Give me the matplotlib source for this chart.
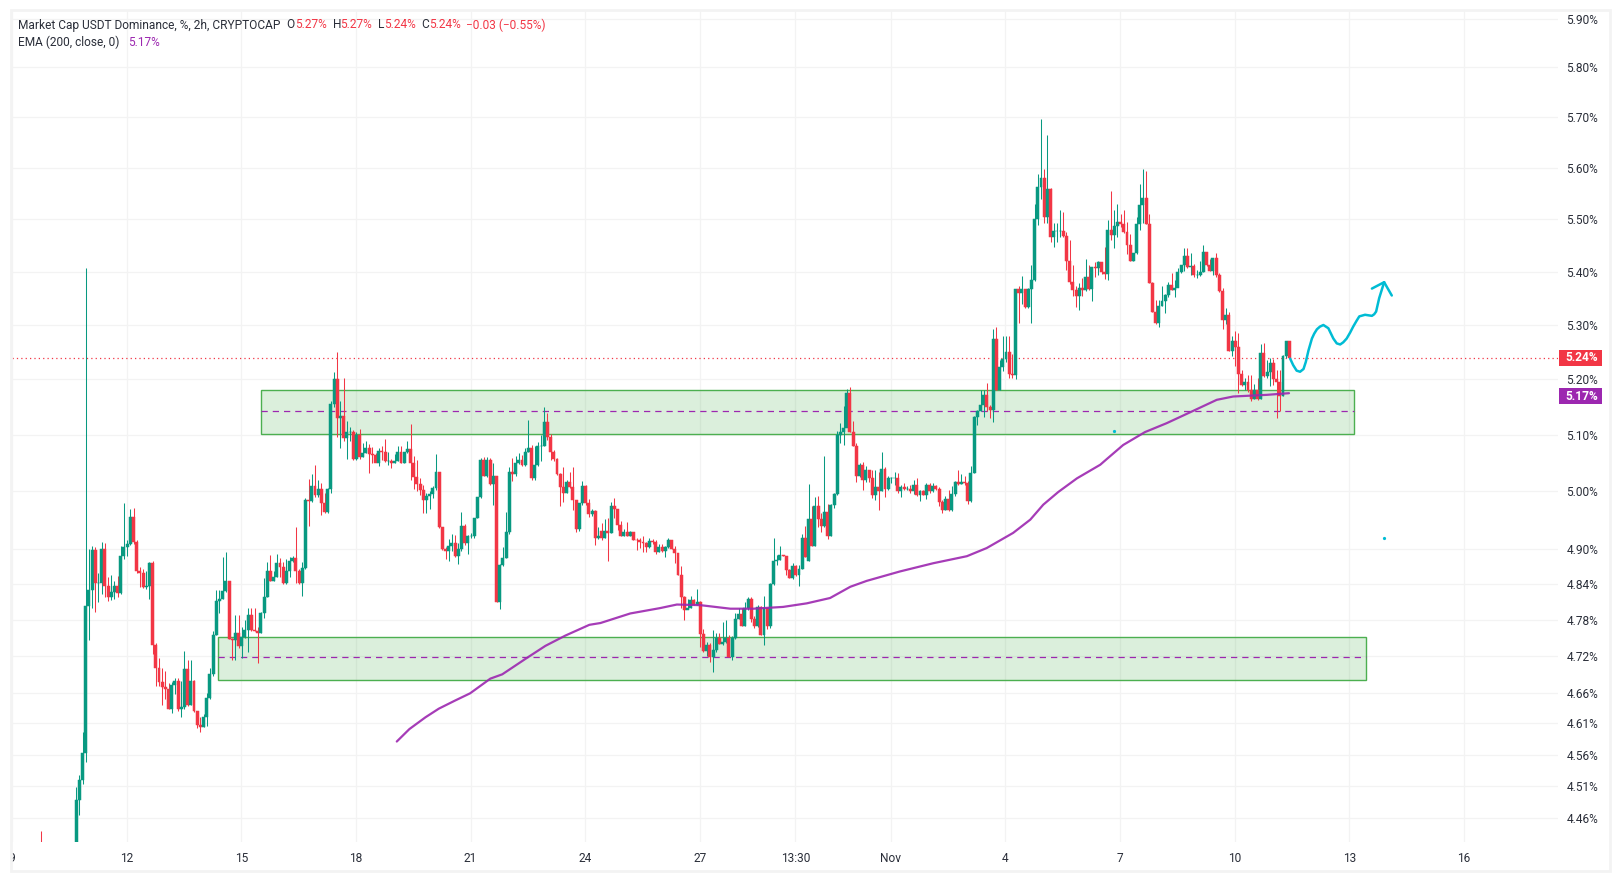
import numpy as np
import matplotlib
matplotlib.use('Agg')
import matplotlib.pyplot as plt
from matplotlib.patches import Rectangle
from matplotlib.ticker import NullLocator

plt.rcParams['font.family'] = ['Roboto', 'DejaVu Sans']

UP = '#089981'
DOWN = '#f23645'
PURPLE = '#9c27b0'
BOX_GREEN = '#4caf50'
CYAN = '#00bcd4'
GRID = '#f3f3f3'
TEXT = '#2a2e39'

# x axis is days since 9 Oct, one candle every 2h, last candle sits at last_day
last_day = 33.43

opens = [
    4.400, 4.488, 4.520, 4.563, 4.803, 4.831, 4.899, 4.842, 4.843, 4.900,
    4.837, 4.818, 4.827, 4.838, 4.825, 4.889, 4.903, 4.909, 4.955, 4.913,
    4.863, 4.859, 4.835, 4.838, 4.877, 4.739, 4.700, 4.678, 4.670, 4.666,
    4.634, 4.672, 4.679, 4.633, 4.637, 4.698, 4.640, 4.679, 4.630, 4.607,
    4.605, 4.621, 4.651, 4.691, 4.755, 4.812, 4.816, 4.828, 4.845, 4.748,
    4.746, 4.758, 4.736, 4.751, 4.764, 4.789, 4.764, 4.762, 4.759, 4.791,
    4.818, 4.862, 4.845, 4.853, 4.877, 4.869, 4.842, 4.863, 4.879, 4.885,
    4.863, 4.842, 4.868, 4.985, 4.984, 5.010, 4.993, 5.004, 4.980, 4.965,
    5.004, 5.155, 5.200, 5.130, 5.133, 5.095, 5.105, 5.106, 5.057, 5.100,
    5.060, 5.067, 5.076, 5.066, 5.065, 5.050, 5.072, 5.070, 5.053, 5.053,
    5.050, 5.054, 5.070, 5.050, 5.070, 5.075, 5.050, 5.025, 5.013, 5.003,
    4.985, 4.992, 4.996, 5.006, 5.035, 4.938, 4.900, 4.897, 4.905, 4.911,
    4.889, 4.900, 4.940, 4.910, 4.922, 4.922, 4.953, 4.990, 5.055, 5.028,
    5.055, 5.013, 5.027, 4.810, 4.873, 4.885, 4.930, 5.035, 5.030, 5.050,
    5.055, 5.047, 5.070, 5.077, 5.023, 5.047, 5.080, 5.080, 5.123, 5.097,
    5.070, 5.058, 5.030, 5.008, 4.998, 5.017, 5.008, 4.985, 4.935, 4.980,
    5.010, 4.980, 4.960, 4.966, 4.920, 4.932, 4.920, 4.932, 4.928, 4.975,
    4.970, 4.942, 4.923, 4.929, 4.923, 4.929, 4.916, 4.915, 4.913, 4.910,
    4.903, 4.914, 4.912, 4.896, 4.903, 4.897, 4.903, 4.916, 4.900, 4.894,
    4.856, 4.818, 4.797, 4.800, 4.813, 4.806, 4.810, 4.757, 4.728, 4.738,
    4.718, 4.730, 4.750, 4.740, 4.743, 4.750, 4.718, 4.750, 4.782, 4.790,
    4.770, 4.800, 4.815, 4.782, 4.770, 4.802, 4.755, 4.800, 4.770, 4.840,
    4.880, 4.882, 4.890, 4.889, 4.865, 4.850, 4.871, 4.856, 4.867, 4.920,
    4.880, 4.952, 4.906, 4.975, 4.952, 4.940, 4.965, 4.923, 4.977, 4.995,
    5.100, 5.105, 5.113, 5.175, 5.105, 5.080, 5.027, 5.047, 5.020, 5.037,
    5.024, 4.994, 5.008, 5.001, 5.040, 5.005, 5.023, 5.024, 5.024, 5.000,
    5.008, 5.005, 5.005, 5.000, 5.012, 4.993, 5.000, 4.993, 5.012, 5.000,
    5.010, 5.005, 4.982, 4.968, 4.987, 4.967, 4.995, 5.017, 5.013, 5.017,
    5.014, 4.983, 5.033, 5.132, 5.143, 5.153, 5.171, 5.150, 5.144, 5.275,
    5.180, 5.222, 5.238, 5.250, 5.210, 5.208, 5.368, 5.360, 5.368, 5.333,
    5.368, 5.385, 5.500, 5.562, 5.580, 5.505, 5.558, 5.465, 5.477, 5.477,
    5.477, 5.468, 5.420, 5.380, 5.365, 5.355, 5.370, 5.365, 5.390, 5.367,
    5.408, 5.406, 5.418, 5.400, 5.396, 5.480, 5.470, 5.487, 5.495, 5.490,
    5.475, 5.450, 5.420, 5.435, 5.490, 5.528, 5.540, 5.490, 5.378, 5.325,
    5.303, 5.335, 5.345, 5.356, 5.375, 5.365, 5.370, 5.400, 5.412, 5.430,
    5.408, 5.410, 5.393, 5.393, 5.400, 5.437, 5.412, 5.402, 5.425, 5.393,
    5.363, 5.310, 5.318, 5.252, 5.270, 5.260, 5.210, 5.190, 5.195, 5.180,
    5.165, 5.180, 5.165, 5.248, 5.207, 5.213, 5.230, 5.200, 5.195, 5.170,
    5.243, 5.270,
]
closes = [
    4.488, 4.520, 4.563, 4.803, 4.831, 4.899, 4.842, 4.843, 4.900, 4.837,
    4.818, 4.827, 4.838, 4.825, 4.889, 4.903, 4.909, 4.955, 4.913, 4.863,
    4.859, 4.835, 4.838, 4.877, 4.739, 4.700, 4.678, 4.670, 4.666, 4.634,
    4.672, 4.679, 4.633, 4.637, 4.698, 4.640, 4.679, 4.630, 4.607, 4.605,
    4.621, 4.651, 4.691, 4.755, 4.812, 4.816, 4.828, 4.845, 4.748, 4.746,
    4.758, 4.736, 4.751, 4.764, 4.789, 4.764, 4.762, 4.759, 4.791, 4.818,
    4.862, 4.845, 4.853, 4.877, 4.869, 4.842, 4.863, 4.879, 4.885, 4.863,
    4.842, 4.868, 4.985, 4.984, 5.010, 4.993, 5.004, 4.980, 4.965, 5.004,
    5.155, 5.200, 5.130, 5.133, 5.095, 5.105, 5.106, 5.057, 5.100, 5.060,
    5.067, 5.076, 5.066, 5.065, 5.050, 5.072, 5.070, 5.053, 5.053, 5.050,
    5.054, 5.070, 5.050, 5.070, 5.075, 5.050, 5.025, 5.013, 5.003, 4.985,
    4.992, 4.996, 5.006, 5.035, 4.938, 4.900, 4.897, 4.905, 4.911, 4.889,
    4.900, 4.940, 4.910, 4.922, 4.922, 4.953, 4.990, 5.055, 5.028, 5.055,
    5.013, 5.027, 4.810, 4.873, 4.885, 4.930, 5.035, 5.030, 5.050, 5.055,
    5.047, 5.070, 5.077, 5.023, 5.047, 5.080, 5.080, 5.123, 5.097, 5.070,
    5.058, 5.030, 5.008, 4.998, 5.017, 5.008, 4.985, 4.935, 4.980, 5.010,
    4.980, 4.960, 4.966, 4.920, 4.923, 4.920, 4.932, 4.928, 4.975, 4.970,
    4.942, 4.923, 4.929, 4.923, 4.929, 4.916, 4.915, 4.913, 4.910, 4.903,
    4.914, 4.912, 4.896, 4.903, 4.897, 4.903, 4.916, 4.900, 4.894, 4.856,
    4.818, 4.797, 4.800, 4.813, 4.806, 4.810, 4.757, 4.728, 4.738, 4.718,
    4.730, 4.750, 4.740, 4.743, 4.750, 4.718, 4.750, 4.782, 4.790, 4.770,
    4.800, 4.815, 4.782, 4.770, 4.802, 4.755, 4.800, 4.770, 4.840, 4.880,
    4.882, 4.890, 4.889, 4.865, 4.850, 4.871, 4.856, 4.867, 4.920, 4.887,
    4.952, 4.906, 4.975, 4.952, 4.940, 4.965, 4.923, 4.977, 4.995, 5.100,
    5.105, 5.113, 5.175, 5.105, 5.080, 5.027, 5.047, 5.020, 5.037, 5.024,
    4.994, 5.008, 5.001, 5.040, 5.005, 5.023, 5.024, 5.024, 5.000, 5.008,
    5.005, 5.005, 5.000, 5.012, 4.993, 5.000, 4.993, 5.012, 5.000, 5.010,
    5.005, 4.982, 4.968, 4.987, 4.967, 4.995, 5.017, 5.013, 5.017, 5.014,
    4.983, 5.033, 5.132, 5.143, 5.153, 5.171, 5.150, 5.144, 5.275, 5.180,
    5.222, 5.238, 5.250, 5.210, 5.208, 5.368, 5.360, 5.368, 5.333, 5.368,
    5.385, 5.500, 5.562, 5.580, 5.505, 5.558, 5.465, 5.477, 5.477, 5.477,
    5.468, 5.420, 5.380, 5.365, 5.355, 5.370, 5.365, 5.390, 5.367, 5.408,
    5.406, 5.418, 5.400, 5.396, 5.480, 5.470, 5.487, 5.495, 5.490, 5.475,
    5.450, 5.420, 5.435, 5.490, 5.528, 5.540, 5.490, 5.378, 5.325, 5.303,
    5.335, 5.345, 5.356, 5.375, 5.365, 5.370, 5.400, 5.412, 5.430, 5.408,
    5.410, 5.393, 5.393, 5.400, 5.437, 5.412, 5.402, 5.425, 5.393, 5.363,
    5.310, 5.318, 5.252, 5.270, 5.260, 5.210, 5.190, 5.195, 5.180, 5.165,
    5.180, 5.165, 5.248, 5.207, 5.213, 5.230, 5.200, 5.195, 5.170, 5.243,
    5.270, 5.240,
]
highs = [
    4.509, 4.527, 4.597, 5.407, 4.900, 4.906, 4.903, 4.860, 4.913, 4.910,
    4.852, 4.856, 4.846, 4.855, 4.906, 4.980, 4.915, 4.970, 4.971, 4.916,
    4.869, 4.866, 4.863, 4.878, 4.879, 4.741, 4.717, 4.700, 4.696, 4.675,
    4.678, 4.684, 4.684, 4.679, 4.728, 4.713, 4.713, 4.681, 4.631, 4.620,
    4.626, 4.659, 4.700, 4.761, 4.831, 4.831, 4.887, 4.896, 4.846, 4.750,
    4.788, 4.789, 4.769, 4.780, 4.800, 4.800, 4.800, 4.769, 4.794, 4.850,
    4.878, 4.890, 4.863, 4.892, 4.885, 4.878, 4.883, 4.887, 4.889, 4.938,
    4.866, 4.878, 4.988, 5.022, 5.030, 5.047, 5.021, 5.015, 4.997, 5.006,
    5.160, 5.213, 5.250, 5.160, 5.203, 5.125, 5.115, 5.108, 5.105, 5.110,
    5.085, 5.090, 5.083, 5.078, 5.068, 5.076, 5.080, 5.093, 5.070, 5.058,
    5.066, 5.080, 5.080, 5.070, 5.090, 5.120, 5.063, 5.055, 5.024, 5.012,
    4.997, 5.000, 5.009, 5.066, 5.035, 4.938, 4.903, 4.917, 4.926, 4.925,
    4.910, 4.964, 4.944, 4.925, 4.927, 4.953, 4.991, 5.059, 5.060, 5.060,
    5.059, 5.050, 5.028, 4.874, 4.903, 4.965, 5.043, 5.059, 5.062, 5.068,
    5.065, 5.076, 5.127, 5.082, 5.080, 5.088, 5.100, 5.150, 5.140, 5.102,
    5.073, 5.059, 5.032, 5.043, 5.020, 5.035, 5.043, 4.984, 4.980, 5.018,
    5.012, 4.987, 4.969, 4.968, 4.938, 4.945, 4.952, 4.953, 4.982, 4.988,
    4.969, 4.948, 4.934, 4.946, 4.932, 4.930, 4.919, 4.919, 4.923, 4.913,
    4.919, 4.918, 4.915, 4.909, 4.909, 4.905, 4.919, 4.916, 4.905, 4.894,
    4.871, 4.820, 4.815, 4.820, 4.816, 4.832, 4.812, 4.765, 4.744, 4.741,
    4.763, 4.758, 4.759, 4.777, 4.780, 4.755, 4.753, 4.792, 4.800, 4.800,
    4.811, 4.819, 4.818, 4.786, 4.805, 4.803, 4.820, 4.800, 4.842, 4.920,
    4.890, 4.906, 4.890, 4.889, 4.867, 4.876, 4.873, 4.873, 4.926, 4.940,
    5.013, 4.975, 4.991, 4.992, 4.962, 5.063, 4.978, 4.979, 4.998, 5.107,
    5.122, 5.152, 5.183, 5.186, 5.124, 5.085, 5.050, 5.051, 5.045, 5.037,
    5.037, 5.037, 5.034, 5.070, 5.043, 5.028, 5.025, 5.035, 5.032, 5.011,
    5.015, 5.009, 5.011, 5.021, 5.024, 5.003, 5.002, 5.014, 5.014, 5.014,
    5.012, 5.008, 4.985, 4.992, 5.002, 5.009, 5.018, 5.037, 5.030, 5.027,
    5.018, 5.044, 5.134, 5.145, 5.180, 5.180, 5.194, 5.153, 5.292, 5.296,
    5.236, 5.279, 5.279, 5.280, 5.247, 5.368, 5.373, 5.391, 5.367, 5.369,
    5.412, 5.530, 5.587, 5.697, 5.597, 5.665, 5.560, 5.492, 5.492, 5.517,
    5.513, 5.475, 5.460, 5.412, 5.372, 5.378, 5.388, 5.424, 5.412, 5.409,
    5.418, 5.420, 5.418, 5.447, 5.498, 5.555, 5.517, 5.530, 5.510, 5.518,
    5.495, 5.472, 5.436, 5.505, 5.568, 5.597, 5.593, 5.510, 5.380, 5.346,
    5.346, 5.372, 5.358, 5.380, 5.398, 5.384, 5.406, 5.413, 5.444, 5.445,
    5.436, 5.414, 5.403, 5.421, 5.450, 5.437, 5.423, 5.426, 5.436, 5.397,
    5.370, 5.331, 5.325, 5.279, 5.288, 5.285, 5.217, 5.202, 5.208, 5.208,
    5.192, 5.202, 5.264, 5.266, 5.235, 5.240, 5.237, 5.217, 5.217, 5.245,
    5.270, 5.270,
]
lows = [
    4.380, 4.465, 4.514, 4.549, 4.747, 4.800, 4.794, 4.810, 4.824, 4.818,
    4.812, 4.813, 4.816, 4.818, 4.824, 4.883, 4.889, 4.908, 4.909, 4.860,
    4.835, 4.834, 4.833, 4.816, 4.724, 4.671, 4.671, 4.640, 4.650, 4.633,
    4.627, 4.658, 4.631, 4.620, 4.634, 4.638, 4.640, 4.629, 4.602, 4.596,
    4.605, 4.606, 4.650, 4.688, 4.755, 4.791, 4.815, 4.827, 4.748, 4.714,
    4.714, 4.733, 4.717, 4.750, 4.727, 4.761, 4.761, 4.708, 4.758, 4.783,
    4.818, 4.845, 4.845, 4.852, 4.852, 4.841, 4.841, 4.852, 4.878, 4.842,
    4.841, 4.821, 4.866, 4.940, 4.982, 4.991, 4.991, 4.959, 4.962, 4.963,
    4.997, 5.150, 5.096, 5.076, 5.090, 5.058, 5.090, 5.055, 5.055, 5.058,
    5.060, 5.067, 5.032, 5.050, 5.051, 5.044, 5.056, 5.052, 5.046, 5.042,
    5.050, 5.053, 5.050, 5.050, 5.068, 5.020, 5.004, 5.000, 4.993, 4.962,
    4.962, 4.970, 4.988, 5.003, 4.937, 4.898, 4.883, 4.880, 4.897, 4.887,
    4.875, 4.897, 4.908, 4.892, 4.920, 4.920, 4.953, 4.988, 5.027, 5.026,
    5.012, 4.976, 4.810, 4.798, 4.871, 4.885, 4.926, 5.018, 5.028, 5.048,
    5.045, 5.044, 5.069, 5.020, 5.020, 5.045, 5.053, 5.080, 5.091, 5.055,
    5.053, 5.029, 4.975, 4.982, 4.998, 5.006, 4.968, 4.929, 4.931, 4.976,
    4.976, 4.955, 4.957, 4.908, 4.918, 4.915, 4.920, 4.880, 4.928, 4.953,
    4.933, 4.923, 4.923, 4.923, 4.923, 4.915, 4.899, 4.902, 4.896, 4.895,
    4.902, 4.909, 4.892, 4.895, 4.896, 4.887, 4.902, 4.900, 4.876, 4.856,
    4.800, 4.780, 4.798, 4.800, 4.806, 4.806, 4.735, 4.727, 4.720, 4.711,
    4.694, 4.727, 4.740, 4.738, 4.741, 4.718, 4.714, 4.748, 4.781, 4.770,
    4.770, 4.797, 4.777, 4.766, 4.769, 4.755, 4.738, 4.765, 4.766, 4.839,
    4.873, 4.882, 4.889, 4.856, 4.850, 4.849, 4.854, 4.837, 4.866, 4.886,
    4.880, 4.905, 4.905, 4.939, 4.930, 4.939, 4.918, 4.922, 4.972, 4.994,
    5.086, 5.082, 5.116, 5.106, 5.080, 5.017, 5.025, 5.002, 5.017, 5.017,
    4.988, 4.985, 4.968, 5.000, 4.991, 5.003, 5.014, 5.011, 4.998, 4.991,
    5.003, 5.003, 4.997, 4.995, 4.992, 4.984, 4.993, 4.986, 4.998, 4.999,
    5.003, 4.975, 4.963, 4.967, 4.966, 4.966, 4.992, 5.011, 5.013, 5.011,
    4.978, 4.982, 5.032, 5.117, 5.142, 5.132, 5.143, 5.130, 5.123, 5.180,
    5.180, 5.216, 5.232, 5.203, 5.203, 5.200, 5.304, 5.340, 5.332, 5.332,
    5.303, 5.383, 5.488, 5.538, 5.492, 5.492, 5.457, 5.447, 5.457, 5.465,
    5.465, 5.403, 5.377, 5.355, 5.333, 5.327, 5.354, 5.363, 5.366, 5.345,
    5.389, 5.394, 5.396, 5.386, 5.385, 5.460, 5.445, 5.466, 5.485, 5.473,
    5.433, 5.420, 5.420, 5.433, 5.480, 5.492, 5.491, 5.378, 5.325, 5.301,
    5.297, 5.335, 5.323, 5.352, 5.366, 5.353, 5.372, 5.397, 5.402, 5.406,
    5.394, 5.390, 5.387, 5.392, 5.399, 5.410, 5.401, 5.393, 5.390, 5.361,
    5.293, 5.302, 5.252, 5.243, 5.225, 5.176, 5.188, 5.180, 5.177, 5.160,
    5.165, 5.163, 5.164, 5.204, 5.203, 5.188, 5.190, 5.130, 5.143, 5.170,
    5.239, 5.240,
]

# a single older candle that only just pokes into the pane at the bottom
stub_day = 0.75
stub_high = 4.44
stub_low = 4.40

ema_days = [10.07, 10.40, 10.82, 11.17, 11.59, 11.99, 12.52, 12.83, 13.45, 13.96,
            14.48, 15.11, 15.40, 16.18, 16.96, 17.40, 18.01, 18.80, 19.40, 20.18,
            20.80, 21.41, 21.94, 22.37, 23.24, 24.11, 24.99, 25.51, 26.20, 26.65,
            26.99, 27.38, 27.87, 28.48, 28.65, 29.08, 29.65, 30.22, 30.91, 31.53,
            31.96, 32.84, 33.42]
ema_vals = [4.581, 4.601, 4.620, 4.634, 4.647, 4.659, 4.683, 4.690, 4.716, 4.737,
            4.754, 4.772, 4.775, 4.791, 4.800, 4.806, 4.805, 4.799, 4.799, 4.802,
            4.808, 4.817, 4.836, 4.846, 4.862, 4.876, 4.888, 4.902, 4.928, 4.951,
            4.977, 4.999, 5.023, 5.047, 5.057, 5.082, 5.105, 5.121, 5.143, 5.163,
            5.169, 5.172, 5.175]

# hand drawn forecast curve, then the two strokes of its arrow head
curve_days = [33.45, 33.53, 33.62, 33.71, 33.80, 33.86, 33.93, 34.02, 34.08, 34.15,
              34.23, 34.32, 34.45, 34.58, 34.67, 34.76, 34.84, 34.93, 35.02, 35.10,
              35.19, 35.26, 35.41, 35.50, 35.59, 35.65, 35.70, 35.78, 35.91]
curve_vals = [5.238, 5.226, 5.216, 5.214, 5.219, 5.232, 5.253, 5.275, 5.284, 5.292,
              5.297, 5.300, 5.294, 5.275, 5.266, 5.264, 5.268, 5.275, 5.286, 5.297,
              5.308, 5.316, 5.319, 5.318, 5.317, 5.320, 5.325, 5.350, 5.380]
arrow_days = [35.59, 35.91, 36.11]
arrow_vals = [5.368, 5.380, 5.355]
dot_days = [28.83, 35.91]
dot_vals = [5.107, 4.919]

# zones: left day, right day, bottom, top, middle
zone_upper = (6.51, 35.12, 5.102, 5.180, 5.142)
zone_lower = (5.40, 35.43, 4.680, 4.752, 4.718)

last_price = 5.24
ema_last = 5.17

x_ticks = [0, 3, 6, 9, 12, 15, 18, 20.5, 23, 26, 29, 32, 35, 38]
x_labels = ['9', '12', '15', '18', '21', '24', '27', '13:30', 'Nov', '4', '7', '10', '13', '16']
y_ticks = [5.90, 5.80, 5.70, 5.60, 5.50, 5.40, 5.30, 5.20, 5.10, 5.00, 4.90,
           4.84, 4.78, 4.72, 4.66, 4.61, 4.56, 4.51, 4.46]

W, H = 1620, 881
fig = plt.figure(figsize=(W / 100, H / 100), dpi=100, facecolor='white')
ax = fig.add_axes([12 / W, 1 - 842 / H, 1546 / W, 831 / H])
ax.set_yscale('log')
ax.set_xlim(0.01, 40.46)
ax.set_ylim(4.4227, 5.9157)

for side in ax.spines:
    ax.spines[side].set_visible(False)
ax.set_axisbelow(True)
ax.grid(True, color=GRID, linewidth=0.9)

ax.set_xticks(x_ticks)
ax.set_xticklabels(x_labels)
ax.set_yticks(y_ticks)
ax.set_yticklabels(['%.2f%%' % v for v in y_ticks])
ax.yaxis.set_minor_locator(NullLocator())
ax.yaxis.tick_right()
ax.tick_params(axis='both', length=0, labelsize=8.6, labelcolor=TEXT)
ax.tick_params(axis='y', pad=6.0)
ax.tick_params(axis='x', pad=7.5)

# zones go under the candles
for left, right, bottom, top, middle in [zone_upper, zone_lower]:
    ax.add_patch(Rectangle((left, bottom), right - left, top - bottom, facecolor=BOX_GREEN,
                           alpha=0.2, edgecolor='none', zorder=2))
    ax.add_patch(Rectangle((left, bottom), right - left, top - bottom, facecolor='none',
                           edgecolor=BOX_GREEN, linewidth=1.0, zorder=2))
    ax.plot([left, right], [middle, middle], color=PURPLE, linewidth=0.9,
            dashes=(5, 4), zorder=2.5)

ax.axhline(last_price, color=DOWN, linewidth=0.9, linestyle=(0, (1, 2.5)), zorder=2.5)

# candles
opens = np.array(opens)
closes = np.array(closes)
highs = np.array(highs)
lows = np.array(lows)
days = last_day - (len(closes) - 1 - np.arange(len(closes))) / 12
colors = np.where(closes >= opens, UP, DOWN)

ax.vlines(days, lows, highs, colors=colors, linewidth=0.75, zorder=3)
ax.vlines([stub_day], [stub_low], [stub_high], colors=DOWN, linewidth=0.75, zorder=3)
ax.bar(days, np.abs(closes - opens), bottom=np.minimum(opens, closes), width=0.92 / 12,
       color=colors, edgecolor=colors, linewidth=0.35, zorder=4)

ax.plot(ema_days, ema_vals, color=PURPLE, linewidth=1.6, alpha=0.9, zorder=5,
        solid_capstyle='round')
ax.plot(curve_days, curve_vals, color=CYAN, linewidth=1.8, zorder=5, solid_capstyle='round')
ax.plot(arrow_days, arrow_vals, color=CYAN, linewidth=1.8, zorder=5, solid_capstyle='round')
ax.plot(dot_days, dot_vals, linestyle='none', marker='o', markersize=1.3, color=CYAN, zorder=5)

# price tags on the right scale
yax = ax.get_yaxis_transform()
for price, col in [(last_price, DOWN), (ema_last, PURPLE)]:
    ax.add_patch(Rectangle((1.0006, price * 0.9972), 0.0278, price * 0.0056, transform=yax,
                           facecolor=col, edgecolor='none', clip_on=False, zorder=6))
    ax.text(1.0152, price * 0.9999, '%.2f%%' % price, transform=yax, color='white', fontsize=8.6,
            fontweight='bold', ha='center', va='center', zorder=7, clip_on=False)

# legend rows, split where the colour changes
row1 = 25 / H
row2 = 42 / H
legend_parts = [
    (18, row1, 'Market Cap USDT Dominance, %, 2h, CRYPTOCAP', TEXT),
    (286.5, row1, 'O', TEXT), (295, row1, '5.27%', DOWN),
    (332.5, row1, 'H', TEXT), (340, row1, '5.27%', DOWN),
    (378, row1, 'L', TEXT), (384, row1, '5.24%', DOWN),
    (421, row1, 'C', TEXT), (429, row1, '5.24%', DOWN),
    (466.5, row1, '\u22120.03 (\u22120.55%)', DOWN),
    (18, row2, 'EMA (200, close, 0)', TEXT),
    (128.5, row2, '5.17%', PURPLE),
]
for px, ry, label, col in legend_parts:
    fig.text(px / W, 1 - ry, label, color=col, fontsize=8.6, ha='left', va='center', zorder=8)

# outer frame, on top so it trims the "9" at the left edge
fig.add_artist(Rectangle((0, 0), 10.5 / W, 1, transform=fig.transFigure, facecolor='white',
                         edgecolor='none', zorder=9))
fig.add_artist(Rectangle((10.5 / W, 1 - 871 / H), 1599.5 / W, 861 / H, transform=fig.transFigure,
                         facecolor='none', edgecolor='#f3f3f3', linewidth=2.0, zorder=10))

fig.savefig('out.png', dpi=100)
